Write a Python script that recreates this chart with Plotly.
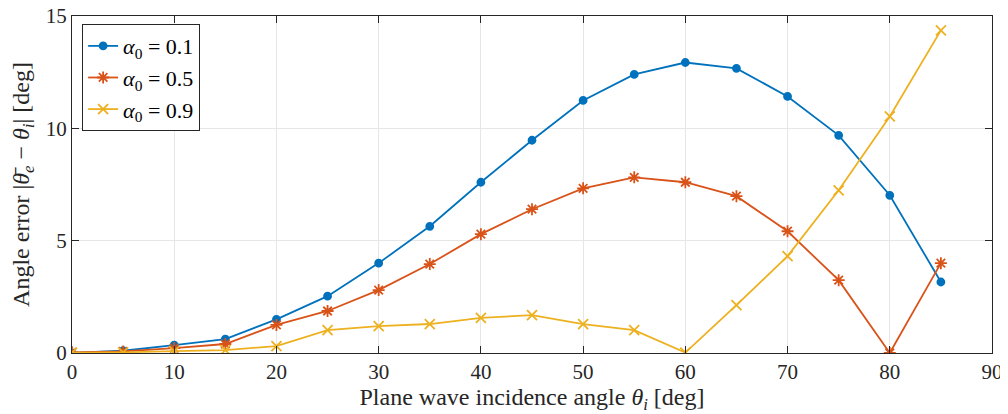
import plotly.graph_objects as go

angles = [0, 5, 10, 15, 20, 25, 30, 35, 40, 45, 50, 55, 60, 65, 70, 75, 80, 85]
err_a01 = [0.0, 0.1, 0.35, 0.62, 1.5, 2.53, 4.0, 5.64, 7.6, 9.47, 11.24, 12.4, 12.93, 12.67, 11.42, 9.69, 7.02, 3.16]
err_a05 = [0.03, 0.07, 0.22, 0.4, 1.25, 1.87, 2.8, 3.96, 5.29, 6.4, 7.33, 7.82, 7.6, 6.98, 5.42, 3.24, 0.0, 4.0]
err_a09 = [0.02, 0.03, 0.08, 0.13, 0.31, 1.02, 1.2, 1.29, 1.56, 1.69, 1.29, 1.02, 0.02, 2.13, 4.31, 7.24, 10.53, 14.36]
names = ["<i>α</i><sub>0</sub> = 0.1", "<i>α</i><sub>0</sub> = 0.5", "<i>α</i><sub>0</sub> = 0.9"]

colors = ["#0072BD", "#D95319", "#EDB120"]
symbols = ["circle", "asterisk-open", "x-thin-open"]
sizes = [7, 10, 10]

fig = go.Figure()
for ys, name, c, s, sz in zip([err_a01, err_a05, err_a09], names, colors, symbols, sizes):
    fig.add_trace(go.Scatter(
        x=angles, y=ys, mode="lines+markers", name=name,
        line=dict(color=c, width=1.8),
        marker=dict(symbol=s, size=sz, color=c, line=dict(color=c, width=1.8)),
    ))

font = "Liberation Serif"
axis_common = dict(
    showline=True, linecolor="#262626", linewidth=1, mirror="ticks",
    ticks="inside", ticklen=7, tickcolor="#262626",
    showgrid=True, gridcolor="#E6E6E6", gridwidth=1, zeroline=False,
    automargin=False, ticklabeloverflow="allow",
    tickfont=dict(family=font, size=21, color="#262626"),
)

fig.update_layout(
    width=1000, height=406,
    margin=dict(l=64, r=16, t=8, b=61),
    paper_bgcolor="white", plot_bgcolor="white",
    font=dict(family=font, color="#262626"),
    xaxis=dict(range=[0, 90], dtick=10,
               title=dict(text="Plane wave incidence angle <i>θ</i><sub><i>i</i></sub> [deg]",
                          font=dict(family=font, size=24), standoff=0),
               **axis_common),
    yaxis=dict(range=[0, 15], dtick=5,
               title=dict(text="Angle error |<i>θ\u0304</i><sub><i>e</i></sub> − <i>θ</i><sub><i>i</i></sub>| [deg]",
                          font=dict(family=font, size=24), standoff=9),
               **axis_common),
    legend=dict(x=0.011, y=0.976, xanchor="left", yanchor="top",
                bordercolor="#262626", borderwidth=1, bgcolor="white",
                font=dict(family=font, size=22, color="#000"),
                tracegroupgap=0, itemwidth=30),
    showlegend=True,
)

fig.write_html("out.html")
